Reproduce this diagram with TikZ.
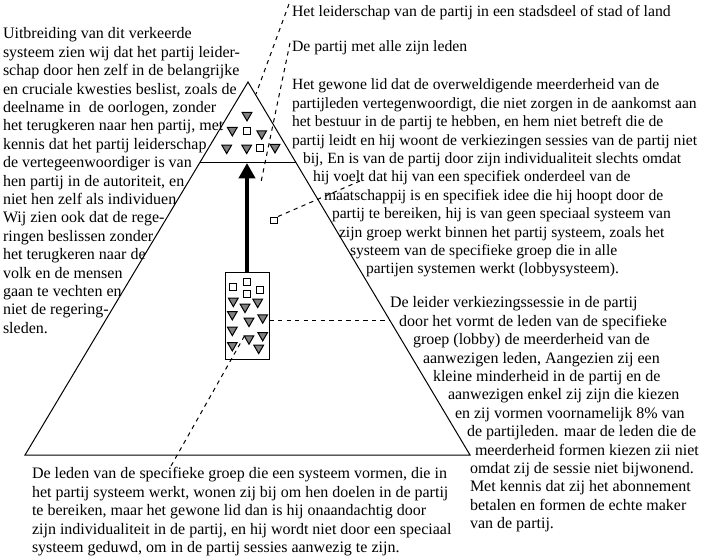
\documentclass[tikz,border=0pt]{standalone}
\usepackage{fontspec}
\setmainfont{Liberation Serif}
\usetikzlibrary{shapes.geometric,arrows.meta,calc}
\newlength\pxu
\setlength\pxu{0.75pt}
\newcommand\ind[1]{\hspace*{#1\pxu}}
\begin{document}
\begin{tikzpicture}[x=0.75pt,y=-0.75pt,
  ln/.style={draw=black,line width=0.75pt},
  dline/.style={draw=black,line width=0.75pt,dash pattern=on 3.2pt off 3.2pt},
  txt/.style={anchor=north west,inner sep=0pt,outer sep=0pt,align=left,font=\fontsize{12pt}{13.8pt}\selectfont},
  txtb/.style={anchor=base west,inner sep=0pt,outer sep=0pt,font=\fontsize{11.8pt}{13.8pt}\selectfont},
  dtri/.style={regular polygon,regular polygon sides=3,shape border rotate=180,draw=black,fill=gray,line width=0.75pt,minimum size=8.4pt,inner sep=0pt},
  sqr/.style={draw=black,fill=white,line width=0.75pt,minimum size=5.2pt,inner sep=0pt}]
\useasboundingbox (0,0) rectangle (702,559);
% pyramid
\coordinate (A) at (248,82);
\coordinate (L) at (25,455);
\coordinate (R) at (470,455);
\draw[ln] (A) -- (L) -- (R) -- cycle;
\coordinate (IL) at ($(A)!0.2145!(L)$);
\coordinate (IR) at ($(A)!0.2145!(R)$);
\draw[ln] (IL) -- (IR);
% leadership members
\foreach \p [count=\i] in {(247,115.3),(232.3,130.3),(261.7,133.6),(226.7,148),(246.7,148),(275,147.3)}
  \node[dtri] (ta\i) at \p {};
\node[sqr] (sa1) at (247.3,131) {};
\node[sqr] (sa2) at (260,147.7) {};
% lobby box
\node[draw=black,line width=0.75pt,inner sep=0pt,minimum width=33pt,minimum height=64.5pt] (box) at (247,316) {};
\foreach \p [count=\i] in {(232.7,287.3),(247,281.7),(246.7,293.7),(260.3,289.7)}
  \node[sqr] (sb\i) at \p {};
\foreach \p [count=\i] in {(233.3,301),(245,307),(257.7,302),(232.3,314.3),(249,321),(262.7,317.6),(232.3,330),(249,338.6),(262.7,335.3),(232.3,345.3),(258.7,348)}
  \node[dtri] (tb\i) at \p {};
% arrow
\coordinate (tip) at (247,163);
\draw[line width=3.4pt,-{Triangle[width=12pt,length=11.5pt]}] (box.north) -- (tip);
% lone member
\node[sqr] (lone) at (274,220.5) {};
% texts
\node[txtb] (lead) at (292,17) {Het leiderschap van de partij in een stadsdeel of stad of land};
\node[txtb] (all) at (292,52) {De partij met alle zijn leden};
\node[txt] (left) at (3,26.1) {\strut Uitbreiding van dit verkeerde\\
systeem zien wij dat het partij leider-\\
schap door hen zelf in de belangrijke\\
en cruciale kwesties beslist, zoals de\\
deelname in\ \ de oorlogen, zonder\\
het terugkeren naar hen partij, met\\
kennis dat het partij leiderschap\\
de vertegeenwoordiger is van\\
hen partij in de autoriteit, en\\
niet hen zelf als individuen\\
Wij zien ook dat de rege-\\
ringen beslissen zonder\\
het terugkeren naar de\\
volk en de mensen\\
gaan te vechten en\\
niet de regering-\\
sleden.};
\node[txt,font=\fontsize{11.7pt}{13.8pt}\selectfont] (gewone) at (292,77.1) {\strut Het gewone lid dat de overweldigende meerderheid van de\\
partijleden vertegenwoordigt, die niet zorgen in de aankomst aan\\
het bestuur in de partij te hebben, en hem niet betreft die de\\
partij leidt en hij woont de verkiezingen sessies van de partij niet\\
\ind{11}bij, En is van de partij door zijn individualiteit slechts omdat\\
\ind{21}hij voelt dat hij van een specifiek onderdeel van de\\
\ind{32}maatschappij is en specifiek idee die hij hoopt door de\\
\ind{40}partij te bereiken, hij is van geen speciaal systeem van\\
\ind{47}zijn groep werkt binnen het partij systeem, zoals het\\
\ind{58}systeem van de specifieke groep die in alle\\
\ind{74}partijen systemen werkt (lobbysysteem).};
\node[txt] (leider) at (390,295.1) {\strut De leider verkiezingssessie in de partij\\
\ind{9}door het vormt de leden van de specifieke\\
\ind{23}groep (lobby) de meerderheid van de\\
\ind{33}aanwezigen leden, Aangezien zij een\\
\ind{43}kleine minderheid in de partij en de\\
\ind{58}aanwezigen enkel zij zijn die kiezen\\
\ind{65}en zij vormen voornamelijk 8\% van\\
\ind{77}de partijleden. maar de leden die de\\
\ind{85}meerderheid formen kiezen zii niet\\
\ind{80}omdat zij de sessie niet bijwonend.\\
\ind{80}Met kennis dat zij het abonnement\\
\ind{80}betalen en formen de echte maker\\
\ind{80}van de partij.};
\node[txt] (leden) at (32,466.1) {\strut De leden van de specifieke groep die een systeem vormen, die in\\
het partij systeem werkt, wonen zij bij om hen doelen in de partij\\
te bereiken, maar het gewone lid dan is hij onaandachtig door\\
zijn individualiteit in de partij, en hij wordt niet door een speciaal\\
systeem geduwd, om in de partij sessies aanwezig te zijn.};
% dashed pointers
\coordinate (d1a) at (289,4);
\coordinate (d1b) at (256,94);
\draw[dline] (d1a) -- (d1b);
\coordinate (d2a) at (290,43);
\coordinate (d2b) at (260.5,184.5);
\draw[dline] (d2a) -- (d2b);
\coordinate (d3b) at (360,181);
\draw[dline] (lone.north east) -- (d3b);
\coordinate (d4a) at (171,466);
\coordinate (d4b) at (245,335);
\draw[dline] (d4a) -- (d4b);
\coordinate (d5b) at (390,320);
\draw[dline] (box.east |- d5b) -- (d5b);
\end{tikzpicture}
\end{document}
